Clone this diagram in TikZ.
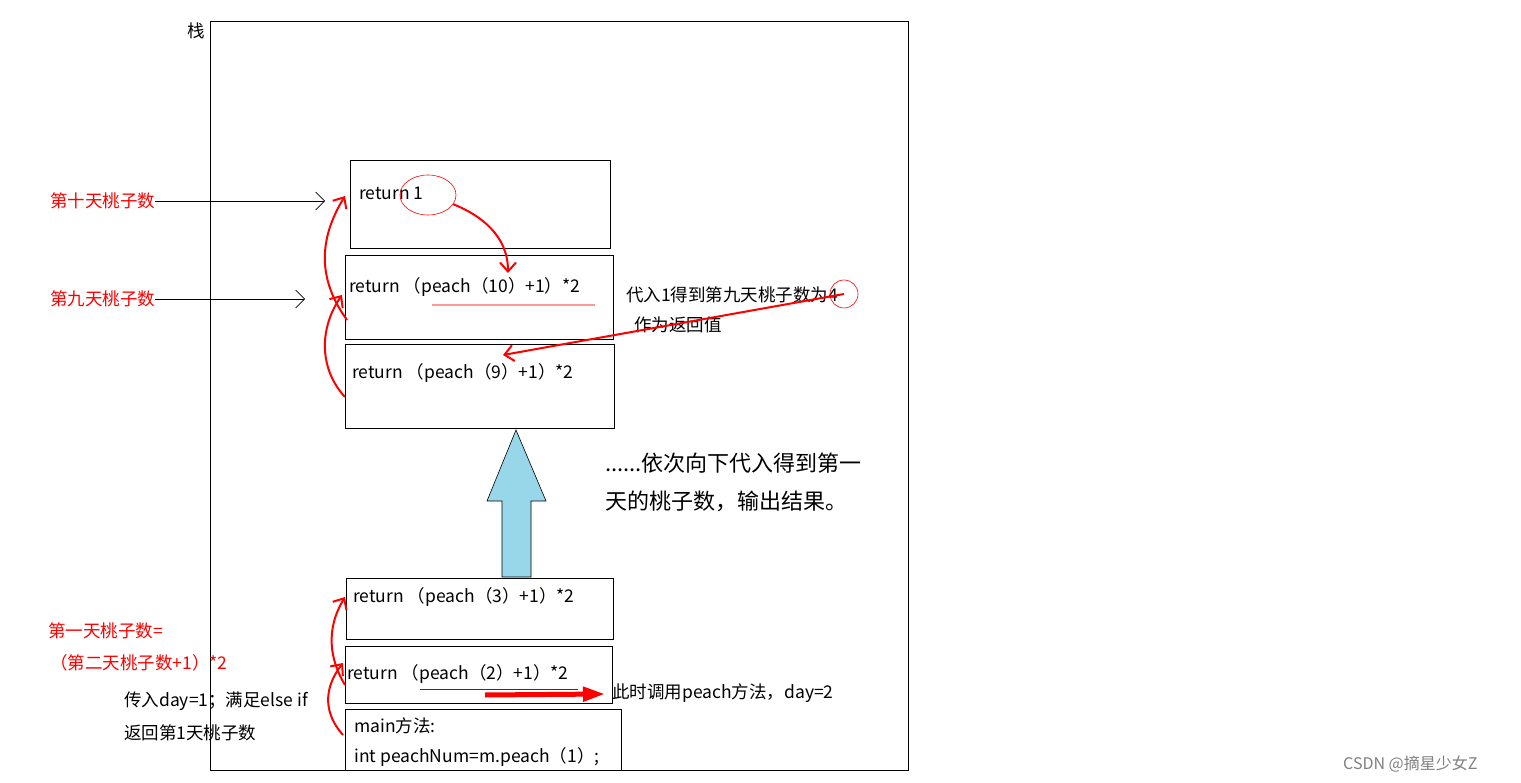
\documentclass[tikz,border=0pt]{standalone}
\usepackage{fontspec}
\setmainfont{Noto Sans CJK SC}
\usetikzlibrary{arrows.meta,shapes.geometric}
\begin{document}
\begin{tikzpicture}[x=1pt,y=-1pt,
  fr/.style={draw=black,line width=0.8pt},
  tx/.style={anchor=west,inner sep=0pt,font=\fontsize{17.5}{20}\selectfont},
  rtx/.style={tx,text=red},
  rc/.style={draw=red,line width=2pt,-{Straight Barb[length=9pt,width=16pt]}},
  bl/.style={draw=black,line width=0.6pt,-{Straight Barb[length=9pt,width=18pt]}}]
\useasboundingbox (0,0) rectangle (1521,783);
\fill[white] (0,0) rectangle (1521,783);
\draw[fr] (210,21) rectangle (908,770);
\node[tx] (zhan) at (187,31) {栈};
\node[fr,minimum width=260pt,minimum height=88pt,anchor=north west] (b1) at (350,160) {};
\node[fr,minimum width=268pt,minimum height=84pt,anchor=north west] (b10) at (345,255) {};
\node[fr,minimum width=269pt,minimum height=84pt,anchor=north west] (b9) at (345,344) {};
\node[fr,minimum width=267pt,minimum height=61pt,anchor=north west] (b3) at (346,578) {};
\node[fr,minimum width=267pt,minimum height=57pt,anchor=north west] (b2) at (345,646) {};
\node[fr,minimum width=276pt,minimum height=61pt,anchor=north west] (bm) at (345,709) {};
\node[tx] (t1) at (359,193) {return 1};
\node[tx] (t10) at (349,287) {return （peach（10）+1）*2};
\node[tx] (t9) at (352,373) {return （peach（9）+1）*2};
\node[tx] (t3) at (353,597) {return （peach（3）+1）*2};
\node[tx] (t2) at (347,674) {return （peach（2）+1）*2};
\node[tx] (tm1) at (354,726) {main方法:};
\node[tx] (tm2) at (354,757) {int peachNum=m.peach（1）;};
\draw[pink!80!red,line width=1.5pt] (432,305) -- (595,305);
\draw[red!70!black,line width=0.8pt] (420,689) -- (578,689);
\node[draw=red,ellipse,minimum width=56pt,minimum height=40pt,line width=0.6pt] (e1) at (428,195) {};
\node[rtx] (l10) at (50,201) {第十天桃子数};
\node[rtx] (l9) at (50,299) {第九天桃子数};
\coordinate (a10) at (325,201);
\coordinate (a9) at (305,299);
\draw[bl] (l10.east) -- (a10);
\draw[bl] (l9.east) -- (a9);
\node[rtx] (l1a) at (48,631) {第一天桃子数=};
\node[rtx] (l1b) at (50,663) {（第二天桃子数+1）*2};
\node[tx] (p1) at (124,701) {传入day=1；满足else if};
\node[tx] (p2) at (124,733) {返回第1天桃子数};
\node[tx] (r1) at (626,295) {代入1得到第九天桃子数为4};
\node[tx] (r2) at (634,325) {作为返回值};
\node[draw=red,circle,minimum size=28pt,line width=0.6pt] (e4) at (844,294) {};
\node[tx,font=\fontsize{22}{24}\selectfont] (big1) at (605,463) {......依次向下代入得到第一};
\node[tx,font=\fontsize{22}{24}\selectfont] (big2) at (605,501) {天的桃子数，输出结果。};
\node[tx] (c2) at (612,693) {此时调用peach方法，day=2};
\node[tx,text=gray,font=\fontsize{16}{18}\selectfont] (wm) at (1343,764) {CSDN @摘星少女Z};
\definecolor{lblue}{RGB}{152,214,234}
\draw[fill=lblue,line width=0.6pt] (502,577) -- (502,501) -- (487,501) -- (516,430) -- (546,501) -- (531,501) -- (531,577) -- cycle;
\coordinate (c10) at (508,273);
\draw[rc] (e1.-20) .. controls (480,215) and (508,235) .. (c10);
\coordinate (c9) at (503,355);
\draw[rc] (e4.center) -- (c9);
\coordinate (s9) at (345,397);
\coordinate (d10) at (342,295);
\draw[rc] (s9) .. controls (320,370) and (318,330) .. (d10);
\coordinate (s10) at (347,320);
\coordinate (d1) at (345,196);
\draw[rc] (s10) .. controls (318,280) and (318,240) .. (d1);
\coordinate (sm) at (343,735);
\coordinate (d2) at (343,663);
\draw[rc] (sm) .. controls (325,715) and (322,690) .. (d2);
\coordinate (s2) at (345,685);
\coordinate (d3) at (345,597);
\draw[rc] (s2) .. controls (330,660) and (325,630) .. (d3);
\coordinate (h0) at (485,695);
\coordinate (h1) at (605,694);
\draw[red,line width=5pt,-{Triangle[length=22pt,width=14pt]}] (h0) -- (h1);
\end{tikzpicture}
\end{document}
